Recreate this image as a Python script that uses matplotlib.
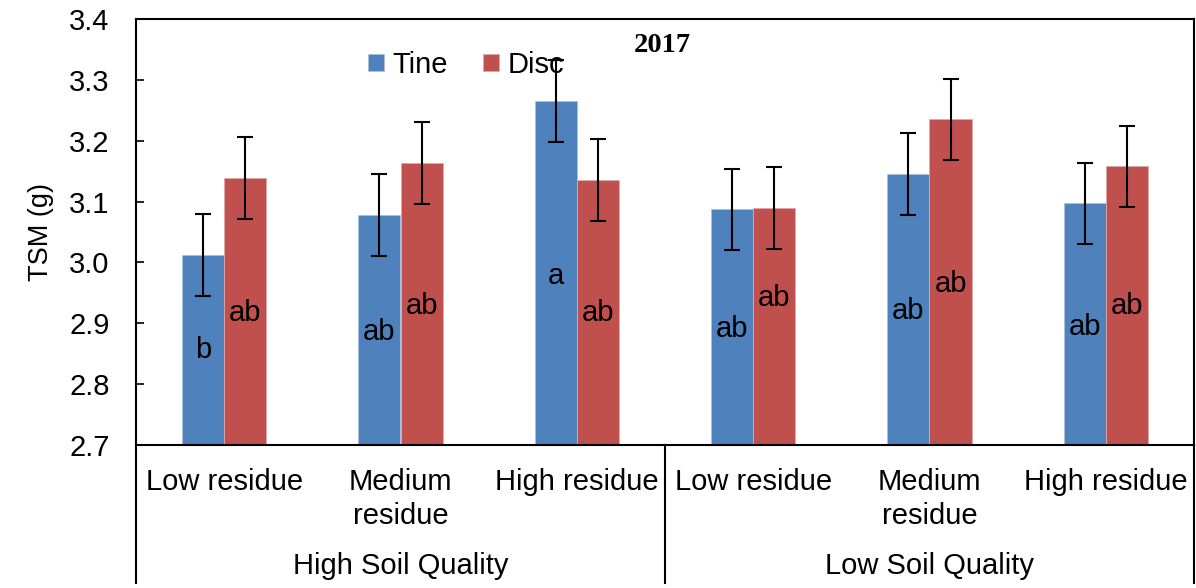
import matplotlib
matplotlib.use("Agg")
import matplotlib.pyplot as plt
import numpy as np
from matplotlib.lines import Line2D

plt.rcParams['font.family'] = ['Liberation Sans', 'DejaVu Sans']

residues = ["Low residue", "Medium\nresidue", "High residue",
            "Low residue", "Medium\nresidue", "High residue"]
groups = ["High Soil Quality", "Low Soil Quality"]
tine = [3.012, 3.078, 3.265, 3.087, 3.145, 3.097]
disc = [3.139, 3.163, 3.135, 3.089, 3.235, 3.158]
tine_err = [0.067, 0.067, 0.067, 0.067, 0.067, 0.067]
disc_err = [0.067, 0.067, 0.067, 0.067, 0.067, 0.067]
tine_letters = ["b", "ab", "a", "ab", "ab", "ab"]
disc_letters = ["ab", "ab", "ab", "ab", "ab", "ab"]
tine_letter_y = [2.856, 2.886, 2.978, 2.891, 2.920, 2.894]
disc_letter_y = [2.917, 2.928, 2.917, 2.942, 2.965, 2.928]

blue = "#4F81BD"
red = "#C0504D"
FS = 21

fig = plt.figure(figsize=(11.96, 5.88), dpi=100)
ax = fig.add_axes([136/1196, 1 - 445/588, (1194-136)/1196, (445-19)/588])

x = np.arange(len(residues))
w = 0.24
ax.bar(x - w/2, [t - 2.7 for t in tine], w, bottom=2.7, color=blue,
       edgecolor="#A9C0DE", linewidth=0.6, label="Tine", zorder=2)
ax.bar(x + w/2, [d - 2.7 for d in disc], w, bottom=2.7, color=red,
       edgecolor="#E0A8A6", linewidth=0.6, label="Disc", zorder=2)
ax.errorbar(x - w/2, tine, yerr=tine_err, fmt="none", ecolor="black",
            elinewidth=1.5, capsize=6, capthick=1.5, zorder=3)
ax.errorbar(x + w/2, disc, yerr=disc_err, fmt="none", ecolor="black",
            elinewidth=1.5, capsize=6, capthick=1.5, zorder=3)

for i in range(len(residues)):
    ax.text(x[i] - w/2, tine_letter_y[i], tine_letters[i], ha="center",
            va="center", fontsize=FS, zorder=4)
    ax.text(x[i] + w/2, disc_letter_y[i], disc_letters[i], ha="center",
            va="center", fontsize=FS, zorder=4)

ax.set_xlim(-0.5, len(residues) - 0.5)
ax.set_ylim(2.7, 3.4)
ticks = np.round(np.arange(2.7, 3.41, 0.1), 1)
ax.set_yticks(ticks)
ax.set_yticklabels([f"{v:.1f}" for v in ticks])
ax.tick_params(axis="y", labelsize=FS, direction="in", length=6, width=1.2, pad=19)
ax.set_xticks([])
for s in ax.spines.values():
    s.set_linewidth(1.5)
    s.set_color("black")

ax.set_ylabel("TSM (g)", fontsize=19.5, labelpad=11)

# multi-level x labels
tr = ax.get_xaxis_transform()
for i, lab in enumerate(residues):
    ax.text(x[i], -0.054, lab, transform=tr, ha="center", va="top",
            fontsize=FS, linespacing=1.27)
for g, gname in enumerate(groups):
    ax.text(g * 3 + 1, -0.284, gname, transform=tr, ha="center", va="center",
            fontsize=FS)
for xs in [-0.5, 2.5, 5.5]:
    ax.add_line(Line2D([xs, xs], [0, -0.325], transform=tr, color="black",
                       linewidth=1.5, clip_on=False))

ax.text(662/1196, 1 - 45/588, "2017", transform=fig.transFigure, ha="center",
        va="center", fontsize=20.5, fontweight="bold", family="Liberation Serif")

ax.legend(loc="center", bbox_to_anchor=(466/1196, 1 - 65/588),
          bbox_transform=fig.transFigure, ncol=2, frameon=False, fontsize=FS,
          handlelength=0.55, handleheight=0.55, handletextpad=0.3,
          columnspacing=1.2)

fig.savefig("out.png", dpi=100)
